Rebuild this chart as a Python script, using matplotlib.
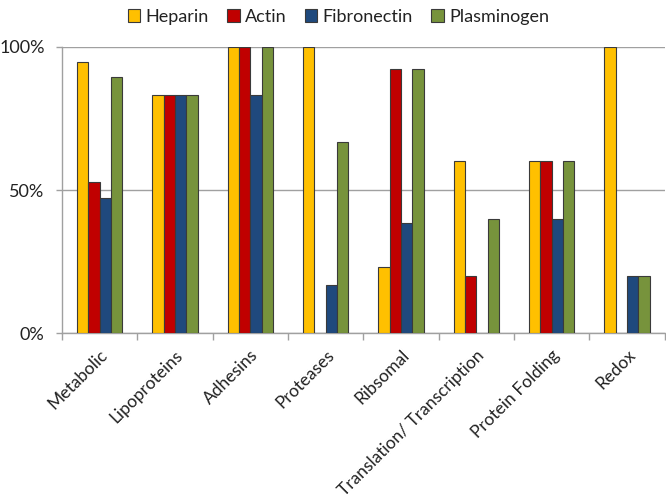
import numpy as np
import matplotlib
matplotlib.use("Agg")
import matplotlib.pyplot as plt
from matplotlib.ticker import FuncFormatter, FixedLocator

plt.rcParams['font.family'] = ['Lato', 'DejaVu Sans']

categories = ['Metabolic', 'Lipoproteins', 'Adhesins', 'Proteases', 'Ribsomal',
              'Translation/ Transcription', 'Protein Folding', 'Redox']
series_names = ['Heparin', 'Actin', 'Fibronectin', 'Plasminogen']
heparin = [18/19, 5/6, 1.0, 1.0, 3/13, 0.6, 0.6, 1.0]
actin = [10/19, 5/6, 1.0, 0.0, 12/13, 0.2, 0.6, 0.0]
fibronectin = [9/19, 5/6, 5/6, 1/6, 5/13, 0.0, 0.4, 0.2]
plasminogen = [17/19, 5/6, 1.0, 2/3, 12/13, 0.4, 0.6, 0.2]
colors = ['#FFC000', '#C00000', '#1F497D', '#77933C']

fig = plt.figure(figsize=(6.66, 5.04), dpi=100)
ax = fig.add_axes([0.093, 0.339, 0.905, 0.568])

x = np.arange(len(categories))
w = 0.15
for i, (vals, name, c) in enumerate(zip([heparin, actin, fibronectin, plasminogen], series_names, colors)):
    ax.bar(x + (i - 1.5) * w, vals, width=w, color=c, edgecolor='#3a3a3a',
           linewidth=0.8, label=name, zorder=3)

ax.set_xlim(-0.5, len(categories) - 0.5)
ax.set_ylim(0, 1.0)
ax.set_yticks([0, 0.5, 1.0])
ax.yaxis.set_major_formatter(FuncFormatter(lambda v, p: f"{int(round(v*100))}%"))
ax.yaxis.grid(True, color='#a0a0a0', linewidth=1.0, zorder=0)
ax.tick_params(axis='y', length=4.5, color='#a0a0a0', width=1.0,
               labelsize=13, pad=8, labelcolor='#222222')

ax.set_xticks(x)
ax.set_xticklabels(categories, rotation=45, ha='right', va='top',
                   rotation_mode='anchor', fontsize=12.5, color='#222222')
ax.xaxis.set_minor_locator(FixedLocator(np.arange(-0.5, len(categories), 1.0)))
ax.tick_params(axis='x', which='major', length=0, pad=10)
ax.tick_params(axis='x', which='minor', length=5, color='#a0a0a0', width=1.0)

for s in ['top', 'right']:
    ax.spines[s].set_visible(False)
for s in ['left', 'bottom']:
    ax.spines[s].set_color('#a0a0a0')
    ax.spines[s].set_linewidth(1.0)

leg = fig.legend(loc='upper center', bbox_to_anchor=(0.508, 1.015), ncol=4,
                 frameon=False, fontsize=13, handlelength=0.7, handleheight=0.7,
                 handletextpad=0.3, columnspacing=1.0)
for t in leg.get_texts():
    t.set_color('#222222')

fig.savefig('out.png', dpi=100)
